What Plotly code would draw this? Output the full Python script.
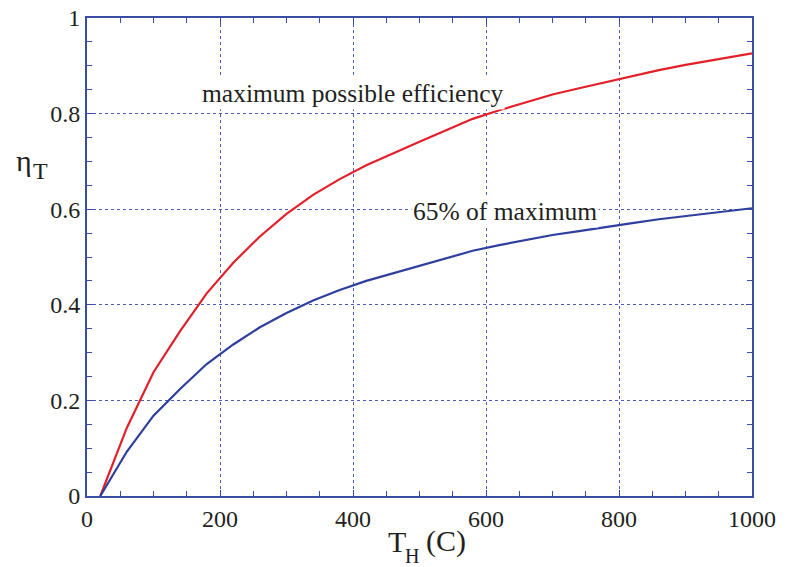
import plotly.graph_objects as go

# Hot-reservoir temperature (C)
t_hot = [20, 60, 100, 140, 180, 220, 260, 300, 340, 380, 420, 460, 500,
         540, 580, 620, 660, 700, 740, 780, 820, 860, 900, 940, 980, 1000]
# Maximum possible efficiency (red)
eta_max = [0.0, 0.143, 0.259, 0.345, 0.424, 0.488, 0.543, 0.590, 0.630, 0.663,
           0.692, 0.717, 0.741, 0.765, 0.789, 0.807, 0.823, 0.840, 0.853, 0.866,
           0.879, 0.891, 0.902, 0.912, 0.921, 0.926]
# 65% of maximum (blue)
eta_65 = [0.0, 0.093, 0.168, 0.224, 0.276, 0.317, 0.353, 0.383, 0.409, 0.431,
          0.450, 0.466, 0.482, 0.497, 0.513, 0.525, 0.535, 0.546, 0.554, 0.563,
          0.571, 0.579, 0.586, 0.593, 0.599, 0.602]

x_ticks = [0, 200, 400, 600, 800, 1000]
y_ticks = [0, 0.2, 0.4, 0.6, 0.8, 1]

RED = "#e3202a"
BLUE = "#2e3f9d"
FRAME = "#3a4ca3"
GRID = "#4a5cb5"
TXT = "#231f20"
FONT = "'Liberation Serif', 'Times New Roman', Times, 'DejaVu Serif', serif"

W, H = 788, 567
L, R, T, B = 87, 36, 18, 71
PW, PH = W - L - R, H - T - B


def px(x):
    return (x - L) / PW


def py(y):
    return (H - B - y) / PH


fig = go.Figure()
fig.add_trace(go.Scatter(x=t_hot, y=eta_max, mode="lines",
                         line=dict(color=RED, width=2.2), showlegend=False))
fig.add_trace(go.Scatter(x=t_hot, y=eta_65, mode="lines",
                         line=dict(color=BLUE, width=2.2), showlegend=False))

axis_common = dict(
    showline=True, linecolor=FRAME, linewidth=2, mirror="ticks",
    ticks="inside", ticklen=6, tickwidth=1, tickcolor=FRAME,
    showgrid=True, gridcolor=GRID, gridwidth=1, griddash="dot",
    zeroline=False, automargin=False,
    tickfont=dict(family=FONT, size=24, color=TXT),
)

fig.update_xaxes(range=[0, 1000], tickvals=x_ticks,
                 ticktext=[str(v) for v in x_ticks],
                 minor=dict(dtick=50, ticks="inside", ticklen=5,
                            tickcolor=FRAME, showgrid=False),
                 **axis_common)
fig.update_yaxes(range=[0, 1], tickvals=y_ticks,
                 ticktext=["0", "0.2", "0.4", "0.6", "0.8", "1"],
                 minor=dict(dtick=0.05, ticks="inside", ticklen=5,
                            tickcolor=FRAME, showgrid=False),
                 **axis_common)

annotations = [
    dict(text="maximum possible efficiency", x=px(352), y=py(94),
         font=dict(family=FONT, size=25.5, color=TXT), bgcolor="white",
         borderpad=1),
    dict(text="65% of maximum", x=px(505), y=py(211),
         font=dict(family=FONT, size=25.5, color=TXT), bgcolor="white",
         borderpad=1),
    # y-axis title  eta_T
    dict(text="η", x=px(24), y=py(160), font=dict(family=FONT, size=30, color=TXT)),
    dict(text="T", x=px(40), y=py(171), font=dict(family=FONT, size=24, color=TXT)),
    # x-axis title  T_H (C)
    dict(text="T", x=px(397), y=py(541), font=dict(family=FONT, size=30, color=TXT)),
    dict(text="H", x=px(412), y=py(556), font=dict(family=FONT, size=20, color=TXT)),
    dict(text="(C)", x=px(446), y=py(541), font=dict(family=FONT, size=30, color=TXT)),
]
for a in annotations:
    a.update(xref="paper", yref="paper", showarrow=False,
             xanchor="center", yanchor="middle")

fig.update_layout(
    width=W, height=H,
    margin=dict(l=L, r=R, t=T, b=B, autoexpand=False),
    plot_bgcolor="white", paper_bgcolor="white",
    font=dict(family=FONT),
    annotations=annotations,
)

fig.write_html("out.html")
